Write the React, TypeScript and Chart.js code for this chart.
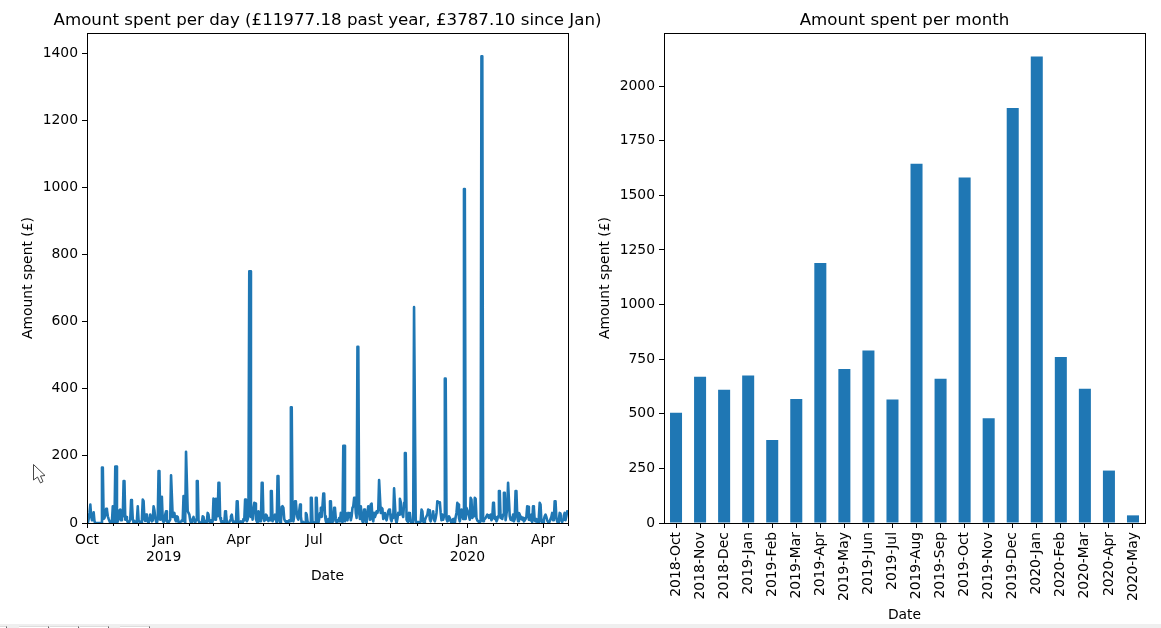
import React, { useEffect, useRef } from "react";
import { Chart, registerables } from "chart.js";

Chart.register(...registerables);

const BLUE = "#1f77b4";
const FONT = "'DejaVu Sans'";

// Daily spend, one small list per calendar month
const oct18 = [5,0,12,30,55,20,8,15,32,5,0,0,0,0,0,0,0,0,165,165,12,15,25,42,38,20,12,6,0,3,5];
const nov18 = [50,8,0,168,168,0,5,12,38,40,8,15,20,125,125,10,18,8,2,0,5,10,68,60,12,0,6,3,0,10];
const dec18 = [50,8,5,0,0,12,70,65,10,6,25,18,4,0,12,25,15,5,8,50,38,15,5,0,12,155,155,10,78,75,8];
const jan19 = [3,5,25,35,8,0,2,6,10,142,142,18,22,30,10,5,20,18,3,0,2,5,8,6,80,12,0,212,212,35,30];
const feb19 = [25,8,0,5,12,18,6,0,10,125,125,8,0,0,2,0,20,18,0,2,6,3,30,25,5,0,8,0];
const mar19 = [5,73,70,10,72,70,20,120,120,15,6,0,5,0,0,35,30,3,0,0,2,8,20,25,8,0,0,5,0,65,65];
const apr19 = [3,0,2,5,2,0,12,8,70,68,5,10,20,750,750,18,40,10,45,60,58,12,5,0,35,32,5,8,120,120];
const may19 = [15,6,10,25,22,12,6,15,8,95,95,5,12,18,25,10,0,140,140,8,0,2,48,50,45,12,6,3,0,5,2];
const jun19 = [8,5,345,345,12,5,20,65,62,30,15,10,35,55,20,0,0,3,0,0,30,25,5,0,0,0,75,75,0,3];
const jul19 = [0,0,75,75,5,0,12,30,45,18,50,88,88,20,5,0,0,12,0,65,65,10,3,5,45,42,12,0,8,5,15];
const aug19 = [5,30,12,2,230,230,5,30,22,8,30,18,30,8,20,45,50,75,72,30,15,525,525,30,12,50,25,5,0,40,38];
const sep19 = [8,0,30,50,48,10,55,58,12,5,30,18,25,35,30,40,128,128,30,45,42,12,25,30,15,8,20,35,40,38];
const oct19 = [12,5,25,15,103,103,10,0,12,30,25,72,62,30,25,18,60,208,208,10,5,3,30,28,6,0,0,2,643,643,10];
const nov19 = [0,0,3,2,0,5,40,35,5,0,8,15,20,25,40,38,10,5,18,22,35,10,5,15,30,65,63,60,62,30];
const dec19 = [8,25,10,20,430,430,12,5,8,20,15,8,0,5,12,3,0,18,30,60,55,15,5,20,40,38,12,995,995,12,45];
const jan20 = [38,30,20,10,75,70,15,25,20,75,72,15,8,5,3,2,5,1390,1390,5,10,12,15,20,25,22,15,20,25,8,15];
const feb20 = [60,58,12,18,5,10,20,95,95,15,22,12,25,90,90,8,25,45,120,120,20,10,15,8,25,5,12,95,95];
const mar20 = [20,5,30,25,12,18,10,15,5,8,12,18,50,48,10,20,8,25,3,50,45,8,5,12,3,0,20,60,55,6,0];
const apr20 = [2,10,20,25,18,8,3,0,5,12,18,30,8,10,65,65,15,5,0,10,30,28,8,3,10,22,30,8,20,35];
const may20 = [32];

const dailyByMonth = [oct18,nov18,dec18,jan19,feb19,mar19,apr19,may19,jun19,jul19,aug19,sep19,oct19,nov19,dec19,jan20,feb20,mar20,apr20,may20];
const monthStartDays = [0,31,61,92,123,151,182,212,243,273,304,335,365,396,426,457,488,517,548,578];
const lastDay = 578;

const majorTickDays = [0,92,182,273,365,457,548];
const majorTickLabels = ["Oct",["Jan","2019"],"Apr","Jul","Oct",["Jan","2020"],"Apr"];
const dailyYTicks = [0,200,400,600,800,1000,1200,1400];
const dailyYMax = 1459.6;

const monthLabels = ["2018-Oct","2018-Nov","2018-Dec","2019-Jan","2019-Feb","2019-Mar","2019-Apr","2019-May","2019-Jun","2019-Jul","2019-Aug","2019-Sep","2019-Oct","2019-Nov","2019-Dec","2020-Jan","2020-Feb","2020-Mar","2020-Apr","2020-May"];
const monthTotals = [505,670,610,675,380,568,1190,705,790,565,1645,660,1582,480,1900,2135,760,615,240,35];
const monthlyYTicks = [0,250,500,750,1000,1250,1500,1750,2000];
const monthlyYMax = 2243;

const dailyTitle = "Amount spent per day (£11977.18 past year, £3787.10 since Jan)";
const monthlyTitle = "Amount spent per month";
const yLabel = "Amount spent (£)";
const xLabel = "Date";

const framePlugin = {
  id: "frame",
  afterDraw(chart: any) {
    const { ctx, chartArea: a } = chart;
    ctx.save();
    ctx.strokeStyle = "#000";
    ctx.lineWidth = 1;
    ctx.strokeRect(Math.round(a.left) + 0.5, Math.round(a.top) + 0.5, Math.round(a.right - a.left), Math.round(a.bottom - a.top));
    ctx.restore();
  },
};

const minorTickPlugin = {
  id: "minorTicks",
  afterDraw(chart: any) {
    const { ctx, chartArea: a, scales } = chart;
    ctx.save();
    ctx.strokeStyle = "#000";
    ctx.lineWidth = 1;
    monthStartDays.forEach((d) => {
      if (majorTickDays.includes(d)) return;
      const x = Math.round(scales.x.getPixelForValue(d)) + 0.5;
      ctx.beginPath();
      ctx.moveTo(x, a.bottom);
      ctx.lineTo(x, a.bottom + 3);
      ctx.stroke();
    });
    ctx.restore();
  },
};

const tickFont = { family: FONT, size: 13.9 };
const titleOpts = (text: string, fullSize: boolean) => ({
  display: true,
  text,
  color: "#000",
  fullSize,
  font: { family: FONT, size: 16.67, weight: "normal" as const },
  padding: { top: 0, bottom: 2 },
});
const axisTitle = (text: string, padding: any) => ({
  display: true,
  text,
  color: "#000",
  font: tickFont,
  padding,
});
const axisGrid = { drawOnChartArea: false, drawTicks: true, tickLength: 5, tickColor: "#000", tickWidth: 1 };
const axisBorder = { color: "#000", width: 1 };

const explicitTicks = (values: number[]) => (axis: any) => {
  axis.ticks = values.map((value) => ({ value }));
};

export default function App() {
  const leftRef = useRef<HTMLCanvasElement>(null);
  const rightRef = useRef<HTMLCanvasElement>(null);

  useEffect(() => {
    const points = dailyByMonth.flatMap((vals, m) =>
      vals.map((y, i) => ({ x: monthStartDays[m] + i, y }))
    );

    const left = new Chart(leftRef.current!, {
      type: "line",
      data: {
        datasets: [{ data: points, borderColor: BLUE, borderWidth: 2.6, pointRadius: 0, tension: 0, borderJoinStyle: "round", fill: false }],
      },
      plugins: [framePlugin, minorTickPlugin],
      options: {
        animation: false,
        responsive: false,
        devicePixelRatio: 1,
        layout: { padding: { left: 0, right: 0, top: 11, bottom: 43 } },
        plugins: { legend: { display: false }, tooltip: { enabled: false }, title: titleOpts(dailyTitle, true) },
        scales: {
          x: {
            type: "linear",
            min: 0,
            max: lastDay,
            grid: axisGrid,
            border: axisBorder,
            title: axisTitle(xLabel, { top: 0, bottom: 0 }),
            afterBuildTicks: explicitTicks(majorTickDays),
            afterFit: (s: any) => { s.height = 62; },
            ticks: {
              autoSkip: false,
              maxRotation: 0,
              minRotation: 0,
              padding: 4,
              color: "#000",
              font: tickFont,
              callback: (v: any) => majorTickLabels[majorTickDays.indexOf(v)] as any,
            },
          },
          y: {
            min: 0,
            max: dailyYMax,
            grid: axisGrid,
            border: axisBorder,
            title: axisTitle(yLabel, { top: 20, bottom: 0 }),
            afterBuildTicks: explicitTicks(dailyYTicks),
            afterFit: (s: any) => { s.width = 87; },
            ticks: { autoSkip: false, padding: 4, color: "#000", font: tickFont, callback: (v: any) => String(v) },
          },
          // empty right-hand gutter: keeps the long title centred over the axes
          gutter: {
            position: "right",
            min: 0,
            max: 1,
            grid: { display: false },
            border: { display: false },
            ticks: { display: false },
            afterFit: (s: any) => { s.width = 87; },
          },
        },
      },
    } as any);

    const right = new Chart(rightRef.current!, {
      type: "bar",
      data: {
        labels: monthLabels,
        datasets: [{ data: monthTotals, backgroundColor: BLUE, barPercentage: 0.5, categoryPercentage: 1 }],
      },
      plugins: [framePlugin],
      options: {
        animation: false,
        responsive: false,
        devicePixelRatio: 1,
        layout: { padding: { left: 7, right: 16, top: 11, bottom: 4 } },
        plugins: { legend: { display: false }, tooltip: { enabled: false }, title: titleOpts(monthlyTitle, false) },
        scales: {
          x: {
            grid: { ...axisGrid, offset: false },
            border: axisBorder,
            title: axisTitle(xLabel, { top: 0, bottom: 0 }),
            afterFit: (s: any) => { s.height = 101; },
            ticks: { autoSkip: false, maxRotation: 90, minRotation: 90, padding: 4, color: "#000", font: tickFont },
          },
          y: {
            min: 0,
            max: monthlyYMax,
            grid: axisGrid,
            border: axisBorder,
            title: axisTitle(yLabel, { top: 0, bottom: 0 }),
            afterBuildTicks: explicitTicks(monthlyYTicks),
            afterFit: (s: any) => { s.width = 67; },
            ticks: { autoSkip: false, padding: 4, color: "#000", font: tickFont, callback: (v: any) => String(v) },
          },
        },
      },
    } as any);

    return () => {
      left.destroy();
      right.destroy();
    };
  }, []);

  const tabs = [[-2, 9], [19, 30], [50, 29], [80, 29], [120, 30]];

  return (
    <div style={{ position: "fixed", left: 0, top: 0, width: 1161, height: 628, overflow: "hidden", background: "#fff" }}>
      <canvas ref={leftRef} width={655} height={628} style={{ position: "absolute", left: 0, top: 0, width: 655, height: 628 }} />
      <canvas ref={rightRef} width={571} height={628} style={{ position: "absolute", left: 590, top: 0, width: 571, height: 628 }} />
      <svg width={16} height={24} style={{ position: "absolute", left: 32, top: 463 }}>
        <path d="M1.5 1.5 L1.5 17 L5.5 14 L8.5 20 L11 18.5 L8.5 13 L13 12.5 Z" fill="#fff" stroke="#333" strokeWidth={0.9} />
      </svg>
      <div style={{ position: "absolute", left: 0, top: 624, width: 1161, height: 4, background: "#efefef" }} />
      {tabs.map(([x, w], i) => (
        <div key={i} style={{ position: "absolute", left: x, top: 626, width: w, height: 2, background: "#fff", borderTop: "1px solid #ddd", borderRight: "1px solid #666", boxSizing: "border-box" }} />
      ))}
    </div>
  );
}
